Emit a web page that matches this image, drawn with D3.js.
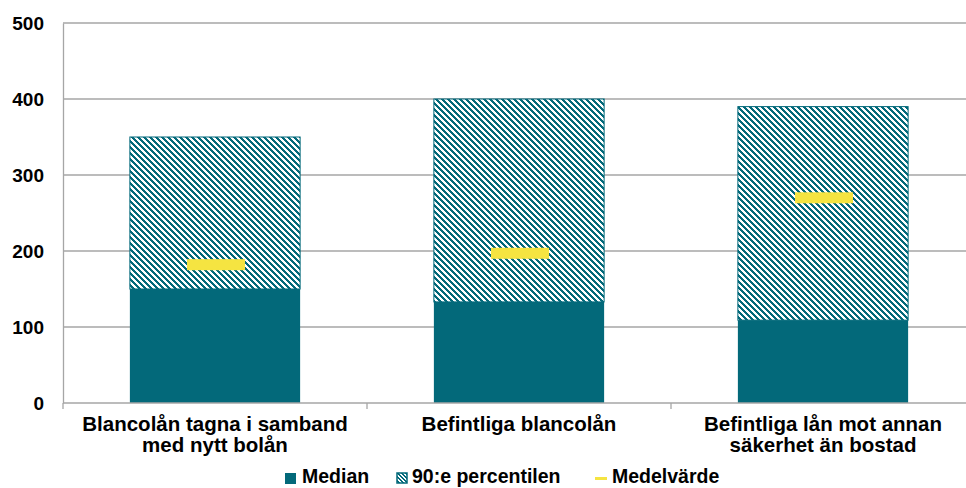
<!DOCTYPE html>
<html>
<head>
<meta charset="utf-8">
<script src="https://cdn.jsdelivr.net/npm/d3@7"></script>
<style>
  html, body { margin: 0; padding: 0; background: #fff; overflow: hidden; }
  svg { display: block; font-family: "Liberation Sans", Arial, sans-serif; }
</style>
</head>
<body>
<svg id="chart" width="966" height="488"></svg>
<script>
// Lånebelopp per kategori: median, 90:e percentilen och medelvärde
const categories = [
  ["Blancolån tagna i samband", "med nytt bolån"],
  ["Befintliga blancolån"],
  ["Befintliga lån mot annan", "säkerhet än bostad"]
];
const medianValues = [150, 133, 109];
const percentile90Values = [350, 400, 390];
const meanValues = [182, 197, 270];
const yTicks = [0, 100, 200, 300, 400, 500];
const legendLabels = ["Median", "90:e percentilen", "Medelvärde"];

const teal = "#03697a";
const yellow = "#f5e441";
const gridColor = "#a6a6a6";

const svg = d3.select("#chart");
const margin = { left: 63, right: -9, top: 23, bottom: 85 };
const width = 966, height = 488;

const x = d3.scaleBand()
  .domain(d3.range(categories.length))
  .range([margin.left, width - margin.right])
  .paddingInner(0).paddingOuter(0);
const barWidth = x.bandwidth() * 0.56;

const y = d3.scaleLinear().domain([0, 500]).range([403, 23]);

// Pixel staircase hatch ("\" direction) for the 90th percentile segment
const defs = svg.append("defs");
function makeHatch(id, size, on) {
  const p = defs.append("pattern")
    .attr("id", id)
    .attr("patternUnits", "userSpaceOnUse")
    .attr("width", size).attr("height", size);
  p.append("rect").attr("width", size).attr("height", size).attr("fill", "#fff");
  const cells = [];
  for (let r = 0; r < size; r++) {
    for (let k = 0; k < on; k++) cells.push([(r + k) % size, r]);
  }
  p.selectAll("rect.px")
    .data(cells)
    .join("rect")
    .attr("class", "px")
    .attr("x", d => d[0]).attr("y", d => d[1])
    .attr("width", 1).attr("height", 1)
    .attr("fill", teal)
    .attr("shape-rendering", "crispEdges");
}
makeHatch("hatch", 6, 3);
makeHatch("hatchSmall", 4, 2);

// Gridlines
svg.append("g")
  .selectAll("line")
  .data(yTicks.filter(d => d > 0))
  .join("line")
  .attr("x1", margin.left).attr("x2", width)
  .attr("y1", d => y(d)).attr("y2", d => y(d))
  .attr("stroke", gridColor).attr("stroke-width", 1.3);

// Y axis
const yAxis = svg.append("g")
  .attr("transform", `translate(${margin.left},0)`)
  .call(d3.axisLeft(y).tickValues(yTicks).tickSize(0).tickPadding(19));
yAxis.select(".domain").attr("stroke", gridColor).attr("stroke-width", 1.3);
yAxis.selectAll("text")
  .attr("font-size", 19).attr("font-weight", "bold").attr("fill", "#000")
  .attr("font-family", "Liberation Sans, Arial, sans-serif");

// Bars: median (solid) and 90th percentile (hatched, stacked above median)
const bars = svg.append("g");
bars.selectAll("rect.p90")
  .data(percentile90Values)
  .join("rect")
  .attr("class", "p90")
  .attr("x", (d, i) => x(i) + (x.bandwidth() - barWidth) / 2)
  .attr("width", barWidth)
  .attr("y", d => y(d))
  .attr("height", (d, i) => y(medianValues[i]) - y(d))
  .attr("fill", "url(#hatch)")
  .attr("stroke", teal).attr("stroke-width", 1);

bars.selectAll("rect.median")
  .data(medianValues)
  .join("rect")
  .attr("class", "median")
  .attr("x", (d, i) => x(i) + (x.bandwidth() - barWidth) / 2)
  .attr("width", barWidth)
  .attr("y", d => y(d))
  .attr("height", d => y(0) - y(d))
  .attr("fill", teal);

// Mean markers
const meanW = 58, meanH = 11;
bars.selectAll("rect.mean")
  .data(meanValues)
  .join("rect")
  .attr("class", "mean")
  .attr("x", (d, i) => x(i) + x.bandwidth() / 2 - meanW / 2 + 1)
  .attr("width", meanW)
  .attr("y", d => y(d) - meanH / 2)
  .attr("height", meanH)
  .attr("fill", yellow);

// X axis
const xAxisG = svg.append("g");
xAxisG.append("line")
  .attr("x1", margin.left).attr("x2", width)
  .attr("y1", y(0)).attr("y2", y(0))
  .attr("stroke", gridColor).attr("stroke-width", 1.3);
xAxisG.selectAll("line.tick")
  .data(d3.range(categories.length + 1))
  .join("line")
  .attr("class", "tick")
  .attr("x1", i => margin.left + i * x.bandwidth())
  .attr("x2", i => margin.left + i * x.bandwidth())
  .attr("y1", y(0)).attr("y2", y(0) + 6)
  .attr("stroke", gridColor).attr("stroke-width", 1.3);

const labels = xAxisG.selectAll("text.cat")
  .data(categories)
  .join("text")
  .attr("class", "cat")
  .attr("text-anchor", "middle")
  .attr("font-size", 20.5).attr("font-weight", "bold").attr("fill", "#000")
  .attr("transform", (d, i) => `translate(${x(i) + x.bandwidth() / 2},431)`);
labels.selectAll("tspan")
  .data(d => d)
  .join("tspan")
  .attr("x", 0)
  .attr("dy", (d, i) => i === 0 ? 0 : 21)
  .text(d => d);

// Legend
const legend = svg.append("g").attr("font-size", 19.5).attr("font-weight", "bold");
const legendX = [285, 397, 595];
const legendTextX = [302, 412, 612];
const legendY = 479;
legend.append("rect")
  .attr("x", legendX[0]).attr("y", legendY - 6).attr("width", 11).attr("height", 11)
  .attr("fill", teal);
legend.append("rect")
  .attr("x", legendX[1]).attr("y", legendY - 6).attr("width", 10).attr("height", 10)
  .attr("fill", "url(#hatchSmall)").attr("stroke", teal).attr("stroke-width", 1.5);
legend.append("rect")
  .attr("x", legendX[2]).attr("y", legendY - 2).attr("width", 12).attr("height", 3)
  .attr("fill", yellow);
legend.selectAll("text")
  .data(legendLabels)
  .join("text")
  .attr("x", (d, i) => legendTextX[i])
  .attr("y", 483)
  .attr("fill", "#000")
  .text(d => d);
</script>
</body>
</html>
